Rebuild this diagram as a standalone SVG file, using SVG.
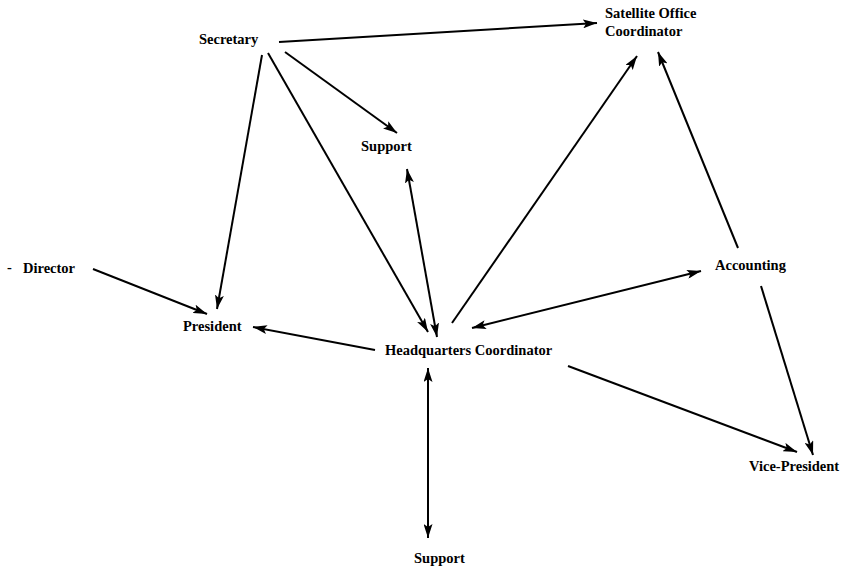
<svg xmlns="http://www.w3.org/2000/svg" width="850" height="570" viewBox="0 0 850 570">
<style>
  text { font-family: "Liberation Serif", "Times New Roman", serif; font-weight: bold; font-size: 14.5px; fill: #000; }
  .c line { stroke: #000; stroke-width: 2; fill: none; }
</style>
<defs>
  <marker id="ah" viewBox="0 0 14 9" refX="14" refY="4.5" markerWidth="14" markerHeight="9" markerUnits="userSpaceOnUse" orient="auto-start-reverse">
    <path d="M0,0 L14,4.5 L0,9 L3,4.5 Z" fill="#000"/>
  </marker>
</defs>
<rect width="850" height="570" fill="#fff"/>
<g class="c" id="connectors">
  <line x1="279" y1="42" x2="597" y2="23" marker-end="url(#ah)"/>
  <line x1="285" y1="52" x2="397" y2="133" marker-end="url(#ah)"/>
  <line x1="262" y1="55" x2="217" y2="309" marker-end="url(#ah)"/>
  <line x1="268" y1="53" x2="428" y2="332" marker-end="url(#ah)"/>
  <line x1="407" y1="169" x2="437" y2="337" marker-start="url(#ah)" marker-end="url(#ah)"/>
  <line x1="452" y1="323" x2="637" y2="56" marker-end="url(#ah)"/>
  <line x1="738" y1="248" x2="658" y2="52" marker-end="url(#ah)"/>
  <line x1="472" y1="328" x2="701" y2="271" marker-start="url(#ah)" marker-end="url(#ah)"/>
  <line x1="761" y1="286" x2="813" y2="455" marker-end="url(#ah)"/>
  <line x1="568" y1="366" x2="797" y2="452" marker-end="url(#ah)"/>
  <line x1="375" y1="350" x2="253" y2="327" marker-end="url(#ah)"/>
  <line x1="93" y1="269" x2="207" y2="314" marker-end="url(#ah)"/>
  <line x1="428" y1="368" x2="428" y2="538" marker-start="url(#ah)" marker-end="url(#ah)"/>
</g>
<g id="secretary"><text x="199" y="44">Secretary</text></g>
<g id="satellite"><text x="605" y="18">Satellite Office</text><text x="605" y="36">Coordinator</text></g>
<g id="support-top"><text x="361" y="151">Support</text></g>
<g id="director"><text x="7" y="272" font-weight="normal">-</text><text x="23" y="273">Director</text></g>
<g id="president"><text x="183" y="331">President</text></g>
<g id="hq"><text x="385" y="355">Headquarters Coordinator</text></g>
<g id="accounting"><text x="715" y="270">Accounting</text></g>
<g id="vice-president"><text x="749" y="471">Vice-President</text></g>
<g id="support-bottom"><text x="414" y="563">Support</text></g>
</svg>
